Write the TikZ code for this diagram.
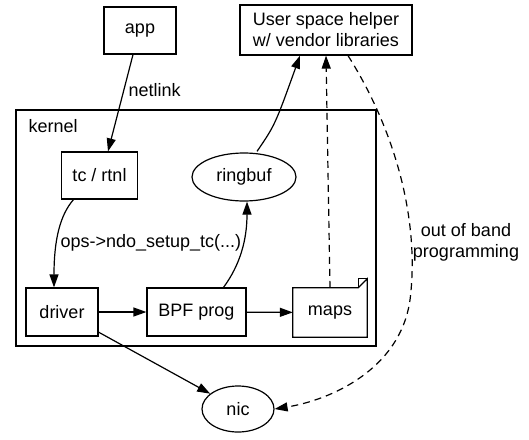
\documentclass[tikz,border=0pt]{standalone}
\usepackage{fontspec}
\setmainfont{Liberation Sans}
\usetikzlibrary{arrows.meta,shapes.geometric}

\begin{document}
\begin{tikzpicture}[x=1pt,y=-1pt,
    every node/.style={font=\fontsize{18}{21}\selectfont},
    box/.style={draw,line width=1.2pt,inner sep=0pt},
    oval/.style={draw,ellipse,line width=1.2pt,inner sep=0pt},
    edge/.style={line width=1.2pt,-{Triangle[length=13pt,width=9pt]}},
    oob/.style={edge,dash pattern=on 7pt off 5pt}]
    \useasboundingbox (0,0) rectangle (529,439);

    % kernel cluster
    \draw[line width=1.2pt] (16,110) rectangle (376,346);
    \node[anchor=west] (kernellab) at (25,126) {kernel};

    \node[box,minimum width=72,minimum height=47] (app) at (140,30.5) {app};
    \node[box,minimum width=172,minimum height=50,align=center] (helper) at (326,30)
      {User space helper\\w/ vendor libraries};
    \node[box,minimum width=76,minimum height=47] (tc) at (99.5,175.5) {tc / rtnl};
    \node[oval,minimum width=104,minimum height=48] (ringbuf) at (244,177) {ringbuf};
    \node[box,minimum width=72,minimum height=48] (driver) at (62,312) {driver};
    \node[box,minimum width=99,minimum height=48] (bpf) at (196.5,312) {BPF prog};
    \node[minimum width=74,minimum height=49,inner sep=0pt] (maps) at (330,312.5) {maps};
    \node[oval,minimum width=72,minimum height=46] (nic) at (238,409) {nic};

    % note shape for maps
    \draw[line width=1.2pt] (maps.north west) -- ([xshift=-9]maps.north east)
      -- ([yshift=9]maps.north east) -- (maps.south east) -- (maps.south west) -- cycle;
    \draw[line width=1pt] ([xshift=-9]maps.north east) -- ([xshift=-9,yshift=9]maps.north east)
      -- ([yshift=9]maps.north east);

    \draw[edge] ([xshift=-7]app.south) -- ([xshift=8.5]tc.north);
    \node[anchor=west] (netlab) at (125,90) {netlink};
    \draw[edge] ([xshift=-26]tc.south) .. controls (60,215) and (54,240) .. ([xshift=-8]driver.north);
    \node[anchor=west] (opslab) at (57,243) {ops->ndo\_setup\_tc(...)};
    \draw[edge] (driver) -- (bpf);
    \draw[edge] (bpf) -- (maps);
    \draw[edge] ([xshift=27]bpf.north) .. controls (240,265) and (247,240) .. ([xshift=3]ringbuf.south);
    \draw[edge] ([xshift=13,yshift=1]ringbuf.north) .. controls (275,125) .. ([xshift=-26]helper.south);
    \draw[oob] (maps.north) -- (helper.south);
    \draw[oob] ([xshift=22]helper.south) .. controls (395,130) and (420,220) .. (410,300)
      .. controls (400,370) and (330,400) .. (nic.east);
    \draw[edge] (driver) -- (nic);
    \node[align=center] (ooblab) at (466,242) {out of band\\programming};
\end{tikzpicture}
\end{document}
